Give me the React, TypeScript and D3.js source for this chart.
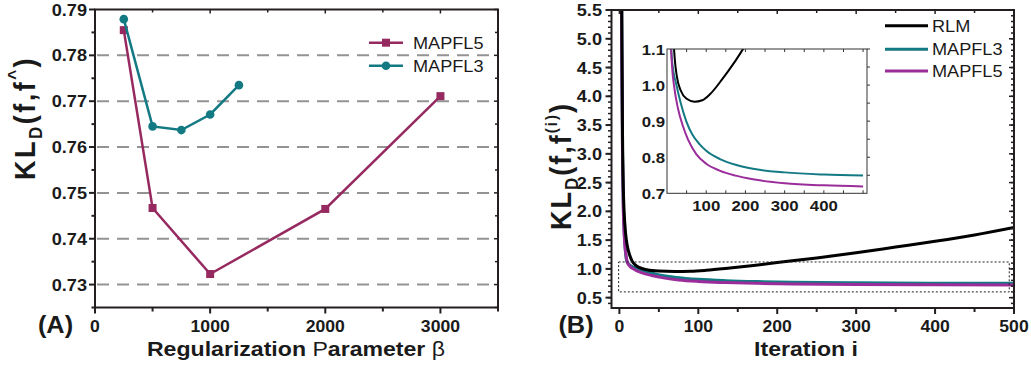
import React from 'react';
import * as d3 from 'd3';

// ---------- Panel A data ----------
const BETA5 = [250, 500, 1000, 2000, 3000];
const MAPFL5_KL = [0.7855, 0.7467, 0.7323, 0.7465, 0.7711];
const BETA3 = [250, 500, 750, 1000, 1250];
const MAPFL3_KL = [0.7879, 0.7645, 0.7637, 0.7671, 0.7735];
const A_X_TICKS = [0, 1000, 2000, 3000];
const A_X_MINOR = [500, 1500, 2500, 3500];
const A_Y_TICKS = [0.73, 0.74, 0.75, 0.76, 0.77, 0.78, 0.79];
const A_Y_MINOR = [0.725, 0.735, 0.745, 0.755, 0.765, 0.775, 0.785];
const A_GRID = [0.73, 0.74, 0.75, 0.76, 0.77, 0.78];

// ---------- Panel B data ----------
const RLM_IT = [2, 3, 4, 5, 6, 8, 10, 13, 16, 20, 25, 35, 50, 70, 90, 110, 140, 170, 200, 250, 300, 350, 400, 450, 500];
const RLM_KL = [9, 5.5, 3.3, 2.4, 2.0, 1.6, 1.4, 1.24, 1.14, 1.07, 1.025, 0.985, 0.962, 0.954, 0.958, 0.975, 1.015, 1.06, 1.11, 1.19, 1.28, 1.38, 1.48, 1.59, 1.72];
const M3_IT = [2, 3, 4, 5, 6, 7, 9, 12, 16, 24, 35, 49, 65, 84, 100, 135, 175, 219, 300, 400, 500];
const M3_KL = [9, 5.0, 3.0, 2.1, 1.7, 1.42, 1.15, 1.08, 1.04, 1.0, 0.95, 0.9, 0.862, 0.835, 0.818, 0.795, 0.779, 0.768, 0.758, 0.752, 0.749];
const M5_IT = [2, 3, 4, 5, 6, 8, 10, 13, 19, 28, 41, 54, 75, 100, 134, 175, 219, 300, 400, 500];
const M5_KL = [9, 4.8, 2.9, 2.0, 1.6, 1.28, 1.12, 1.05, 0.99, 0.935, 0.885, 0.848, 0.808, 0.782, 0.763, 0.749, 0.739, 0.728, 0.722, 0.719];
const B_X_TICKS = [0, 100, 200, 300, 400, 500];
const B_X_MINOR = [50, 150, 250, 350, 450];
const B_Y_TICKS = [0.5, 1.0, 1.5, 2.0, 2.5, 3.0, 3.5, 4.0, 4.5, 5.0, 5.5];
const B_Y_MINOR = d3.range(4, 55).map((d) => d / 10);
const ZOOM_X = [-1, 494];
const ZOOM_Y = [0.6, 1.12];
const IN_X_TICKS = [100, 200, 300, 400];
const IN_Y_TICKS = [0.7, 0.8, 0.9, 1.0, 1.1];

const FF = "'Liberation Sans', Arial, Helvetica, sans-serif";
const AX = '#231f20';
const C5A = '#962a60';
const C3 = '#137a84';
const C5B = '#9b2d9b';

type TP = { x: number; y: number; a?: string; s?: number; w?: string | number; r?: boolean; sx?: number; ls?: number; fill?: string; children?: React.ReactNode };
function T({ x, y, a = 'middle', s = 16, w = 'bold', r = false, sx = 1.1, ls = 0, fill = '#1a1a1a', children }: TP) {
  const tr = r ? `translate(${x},${y}) rotate(-90) scale(1,${sx})` : `translate(${x},${y}) scale(${sx},1)`;
  return (
    <text transform={tr} textAnchor={a as any} fontSize={s} fontWeight={w as any} fontFamily={FF} fill={fill} letterSpacing={ls}>
      {children}
    </text>
  );
}

export default function App() {
  // Panel A scales
  const axL = 95, axR = 498, ayT = 9.5, ayB = 307.5;
  const xA = d3.scaleLinear().domain([0, 3500]).range([axL, axR]);
  const yA = d3.scaleLinear().domain([0.725, 0.79]).range([ayB, ayT]);
  const lineA = d3.line<[number, number]>().x((d) => xA(d[0])).y((d) => yA(d[1]));
  const s5 = BETA5.map((b, i) => [b, MAPFL5_KL[i]] as [number, number]);
  const s3 = BETA3.map((b, i) => [b, MAPFL3_KL[i]] as [number, number]);

  // Panel B scales
  const bxL = 611.5, bxR = 1014, byT = 10, byB = 308;
  const xB = d3.scaleLinear().domain([-10, 500]).range([bxL, bxR]);
  const yB = d3.scaleLinear().domain([0.32, 5.5]).range([byB, byT]);
  const mk = (it: number[], v: number[]) => it.map((d, i) => [d, v[i]] as [number, number]);
  const rlm = mk(RLM_IT, RLM_KL), m3 = mk(M3_IT, M3_KL), m5 = mk(M5_IT, M5_KL);
  const lineB = d3.line<[number, number]>().x((d) => xB(d[0])).y((d) => yB(d[1])).curve(d3.curveMonotoneX);

  // Inset scales
  const ixL = 667, ixR = 867, iyT = 49, iyB = 193.3;
  const xI = d3.scaleLinear().domain([0, 510]).range([ixL, ixR]);
  const yI = d3.scaleLinear().domain([0.7, 1.1]).range([iyB, iyT]);
  const lineI = d3.line<[number, number]>().x((d) => xI(d[0])).y((d) => yI(d[1])).curve(d3.curveMonotoneX);

  return (
    <svg width={1031} height={369} style={{ position: 'absolute', left: 0, top: 0, background: '#fff' }}>
      <defs>
        <clipPath id="clipB"><rect x={bxL} y={byT} width={bxR - bxL} height={byB - byT} /></clipPath>
        <clipPath id="clipI"><rect x={ixL} y={iyT} width={ixR - ixL} height={iyB - iyT} /></clipPath>
      </defs>
      <rect x={0} y={0} width={1031} height={369} fill="#fff" />

      {/* ================= Panel A ================= */}
      {A_GRID.map((v) => (
        <line key={'g' + v} x1={axL + 2} x2={axR} y1={yA(v)} y2={yA(v)} stroke="#939393" strokeWidth={2} strokeDasharray="12,8" />
      ))}
      <rect x={axL} y={ayT} width={axR - axL} height={ayB - ayT} fill="none" stroke={AX} strokeWidth={2} />
      {A_X_TICKS.map((v) => (
        <g key={'ax' + v}>
          <line x1={xA(v)} x2={xA(v)} y1={ayB} y2={ayB + 6} stroke={AX} strokeWidth={2} />
          <line x1={xA(v)} x2={xA(v)} y1={ayT} y2={ayT + 4} stroke={AX} strokeWidth={1.5} />
          <T x={xA(v)} y={332} s={16}>{v}</T>
        </g>
      ))}
      {A_X_MINOR.map((v) => (
        <g key={'axm' + v}>
          <line x1={xA(v)} x2={xA(v)} y1={ayB} y2={ayB + 4} stroke={AX} strokeWidth={2} />
          <line x1={xA(v)} x2={xA(v)} y1={ayT} y2={ayT + 3} stroke={AX} strokeWidth={1.5} />
        </g>
      ))}
      {A_Y_TICKS.map((v) => (
        <g key={'ay' + v}>
          <line x1={axL - 6} x2={axL} y1={yA(v)} y2={yA(v)} stroke={AX} strokeWidth={2} />
          <line x1={axR - 4} x2={axR} y1={yA(v)} y2={yA(v)} stroke={AX} strokeWidth={1.5} />
          <T x={87} y={yA(v) + 6} a="end" s={16.5}>{v.toFixed(2)}</T>
        </g>
      ))}
      {A_Y_MINOR.map((v) => (
        <g key={'aym' + v}>
          <line x1={axL - 3.5} x2={axL} y1={yA(v)} y2={yA(v)} stroke={AX} strokeWidth={2} />
          <line x1={axR - 3} x2={axR} y1={yA(v)} y2={yA(v)} stroke={AX} strokeWidth={1.5} />
        </g>
      ))}
      <path d={lineA(s5) || ''} fill="none" stroke={C5A} strokeWidth={2.5} />
      {s5.map((d, i) => (
        <rect key={'sq' + i} x={xA(d[0]) - 4} y={yA(d[1]) - 4} width={8} height={8} fill={C5A} />
      ))}
      <path d={lineA(s3) || ''} fill="none" stroke={C3} strokeWidth={2.5} />
      {s3.map((d, i) => (
        <circle key={'ci' + i} cx={xA(d[0])} cy={yA(d[1])} r={4.3} fill={C3} />
      ))}
      {/* legend A */}
      <line x1={369} x2={403} y1={42.7} y2={42.7} stroke={C5A} strokeWidth={2.5} />
      <rect x={382} y={38.7} width={8} height={8} fill={C5A} />
      <T x={413} y={48.7} a="start" s={16.5} w="normal">MAPFL5</T>
      <line x1={369} x2={403} y1={65.7} y2={65.7} stroke={C3} strokeWidth={2.5} />
      <circle cx={386} cy={65.7} r={4.3} fill={C3} />
      <T x={413} y={71.7} a="start" s={16.5} w="normal">MAPFL3</T>
      {/* axis titles A */}
      <T x={296} y={356} s={21}>
        Regularization <tspan fontWeight="normal">P</tspan>arameter <tspan fontWeight="normal">β</tspan>
      </T>
      <T x={35} y={118} r s={27} ls={2.5}>
        KL<tspan fontSize={17} dy={6}>D</tspan><tspan dy={-6}>(f,f</tspan><tspan fontSize={17} dy={-13}>^</tspan><tspan dy={13}>)</tspan>
      </T>
      <T x={55.5} y={333} s={23}>(A)</T>

      {/* ================= Panel B ================= */}
      <g clipPath="url(#clipB)">
        <path d={lineB(m3) || ''} fill="none" stroke={C3} strokeWidth={3} />
        <path d={lineB(m5) || ''} fill="none" stroke={C5B} strokeWidth={3} />
        <path d={lineB(rlm) || ''} fill="none" stroke="#000" strokeWidth={3} />
      </g>
      <rect x={xB(ZOOM_X[0])} y={yB(ZOOM_Y[1])} width={xB(ZOOM_X[1]) - xB(ZOOM_X[0])} height={yB(ZOOM_Y[0]) - yB(ZOOM_Y[1])}
        fill="none" stroke="#222" strokeWidth={1} strokeDasharray="2,2" />
      <rect x={bxL} y={byT} width={bxR - bxL} height={byB - byT} fill="none" stroke={AX} strokeWidth={2} />
      {B_X_TICKS.map((v) => (
        <g key={'bx' + v}>
          <line x1={xB(v)} x2={xB(v)} y1={byB} y2={byB + 6} stroke={AX} strokeWidth={2} />
          <line x1={xB(v)} x2={xB(v)} y1={byT} y2={byT + 4} stroke={AX} strokeWidth={1.5} />
          <T x={xB(v)} y={332} s={16}>{v}</T>
        </g>
      ))}
      {B_X_MINOR.map((v) => (
        <g key={'bxm' + v}>
          <line x1={xB(v)} x2={xB(v)} y1={byB} y2={byB + 4} stroke={AX} strokeWidth={2} />
          <line x1={xB(v)} x2={xB(v)} y1={byT} y2={byT + 3} stroke={AX} strokeWidth={1.5} />
        </g>
      ))}
      {B_Y_MINOR.map((v) => (
        <g key={'bym' + v}>
          <line x1={bxL - 3.5} x2={bxL} y1={yB(v)} y2={yB(v)} stroke={AX} strokeWidth={1.5} />
          <line x1={bxR - 3} x2={bxR} y1={yB(v)} y2={yB(v)} stroke={AX} strokeWidth={1.5} />
        </g>
      ))}
      {B_Y_TICKS.map((v) => (
        <g key={'by' + v}>
          <line x1={bxL - 6} x2={bxL} y1={yB(v)} y2={yB(v)} stroke={AX} strokeWidth={2} />
          <line x1={bxR - 5} x2={bxR} y1={yB(v)} y2={yB(v)} stroke={AX} strokeWidth={1.5} />
          <T x={602} y={yB(v) + 6} a="end" s={16.5}>{v.toFixed(1)}</T>
        </g>
      ))}
      {/* legend B */}
      <line x1={885} x2={928} y1={25.7} y2={25.7} stroke="#000" strokeWidth={3} />
      <T x={932} y={31.7} a="start" s={16.5} w="normal">RLM</T>
      <line x1={885} x2={928} y1={49.3} y2={49.3} stroke={C3} strokeWidth={3} />
      <T x={932} y={55.3} a="start" s={16.5} w="normal">MAPFL3</T>
      <line x1={885} x2={928} y1={71} y2={71} stroke={C5B} strokeWidth={3} />
      <T x={932} y={77} a="start" s={16.5} w="normal">MAPFL5</T>

      {/* inset */}
      <rect x={ixL} y={iyT} width={ixR - ixL} height={iyB - iyT} fill="#fff" />
      <g clipPath="url(#clipI)">
        <path d={lineI(m3) || ''} fill="none" stroke={C3} strokeWidth={2} />
        <path d={lineI(m5) || ''} fill="none" stroke={C5B} strokeWidth={2} />
        <path d={lineI(rlm) || ''} fill="none" stroke="#000" strokeWidth={2} />
      </g>
      <rect x={ixL} y={iyT} width={ixR - ixL} height={iyB - iyT} fill="none" stroke="#333" strokeWidth={1} />
      {d3.range(50, 510, 50).map((v) => (
        <g key={'ixt' + v}>
          <line x1={xI(v)} x2={xI(v)} y1={iyT} y2={iyT + 3} stroke="#333" strokeWidth={1} />
          <line x1={xI(v)} x2={xI(v)} y1={iyB} y2={iyB - 3} stroke="#333" strokeWidth={1} />
        </g>
      ))}
      {d3.range(0.75, 1.1, 0.05).map((v) => (
        <line key={'iyt' + v} x1={ixR} x2={ixR + 3} y1={yI(v)} y2={yI(v)} stroke="#333" strokeWidth={1} />
      ))}
      {IN_X_TICKS.map((v) => (
        <T key={'ixl' + v} x={xI(v)} y={211} s={15} sx={1.12}>{v}</T>
      ))}
      {IN_Y_TICKS.map((v) => (
        <T key={'iyl' + v} x={665} y={yI(v) + 5.5} a="end" s={15} sx={1.12}>{v.toFixed(1)}</T>
      ))}

      {/* axis titles B */}
      <T x={571} y={166} r s={27} ls={2}>
        KL<tspan fontSize={17} dy={6}>D</tspan><tspan dy={-6}>(f,f</tspan><tspan fontSize={15} dy={-13}>(i)</tspan><tspan dy={13}>)</tspan>
      </T>
      <T x={806} y={356} s={21}>Iteration i</T>
      <T x={576} y={333} s={23}>(B)</T>
    </svg>
  );
}
